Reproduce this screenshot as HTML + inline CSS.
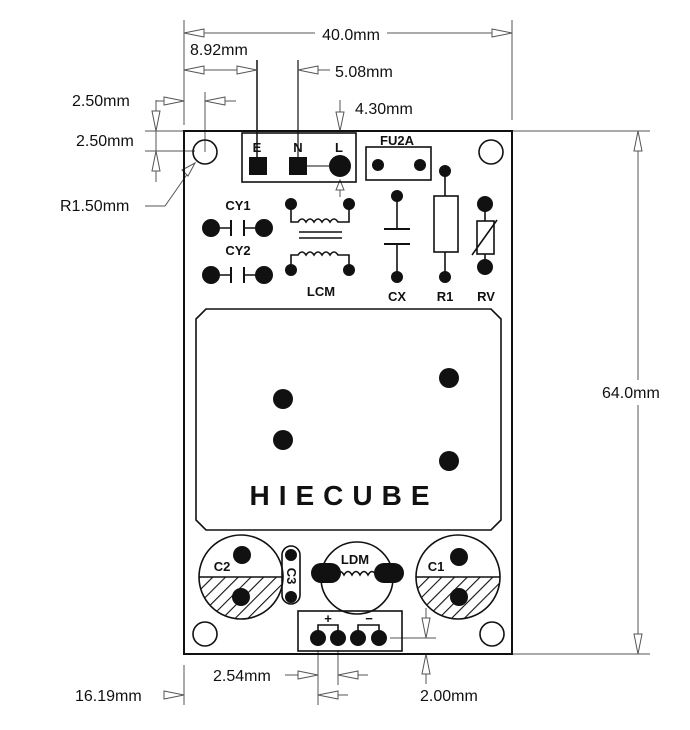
<!DOCTYPE html><html><head><meta charset="utf-8"><style>body{margin:0;background:#fff}svg{display:block}text{font-family:"Liberation Sans",sans-serif}</style></head><body>
<svg width="690" height="730" viewBox="0 0 690 730" xmlns="http://www.w3.org/2000/svg">
<defs>
<pattern id="h" width="9" height="9" patternUnits="userSpaceOnUse" patternTransform="rotate(45)"><line x1="0" y1="0" x2="0" y2="9" stroke="#111" stroke-width="2.2"/></pattern>
<clipPath id="c2"><circle cx="241" cy="577" r="42"/></clipPath>
<clipPath id="c1"><circle cx="458" cy="577" r="42"/></clipPath>
</defs>
<g stroke="#555" stroke-width="1" fill="none">
<line x1="184" y1="20" x2="184" y2="125"/><line x1="512" y1="20" x2="512" y2="120"/>
<line x1="184" y1="33" x2="315" y2="33"/><line x1="387" y1="33" x2="512" y2="33"/>
<line x1="184" y1="70" x2="257" y2="70"/><line x1="257" y1="60" x2="257" y2="160" stroke="#111" stroke-width="1.5"/>
<line x1="298" y1="60" x2="298" y2="160" stroke="#111" stroke-width="1.2"/><line x1="298" y1="70" x2="330" y2="70"/>
<line x1="340" y1="100" x2="340" y2="131"/><line x1="340" y1="180" x2="340" y2="197"/>
<line x1="156" y1="101" x2="184" y2="101"/><line x1="205" y1="101" x2="236" y2="101"/><line x1="205" y1="92" x2="205" y2="152"/>
<line x1="156" y1="100" x2="156" y2="182"/><line x1="145" y1="131" x2="184" y2="131"/><line x1="145" y1="151" x2="195" y2="151"/>
<polyline points="145,206 165,206 195,163"/>
<line x1="512" y1="131" x2="650" y2="131"/><line x1="512" y1="654" x2="650" y2="654"/>
<line x1="638" y1="131" x2="638" y2="380"/><line x1="638" y1="405" x2="638" y2="654"/>
<line x1="184" y1="665" x2="184" y2="705"/><line x1="164" y1="695" x2="184" y2="695"/>
<line x1="318" y1="650" x2="318" y2="705"/><line x1="338" y1="650" x2="338" y2="685"/>
<line x1="285" y1="675" x2="318" y2="675"/><line x1="338" y1="675" x2="368" y2="675"/><line x1="318" y1="695" x2="348" y2="695"/>
<line x1="390" y1="638" x2="436" y2="638"/><line x1="426" y1="608" x2="426" y2="638"/><line x1="426" y1="654" x2="426" y2="684"/>
</g>
<g fill="#fff" stroke="#555" stroke-width="1">
<polygon points="184,33 204,29 204,37"/><polygon points="512,33 492,29 492,37"/>
<polygon points="184,70 204,66 204,74"/><polygon points="257,70 237,66 237,74"/>
<polygon points="298,70 318,66 318,74"/>
<polygon points="340,131 336,112 344,112"/><polygon points="340,180 336,190 344,190"/>
<polygon points="184,101 164,97 164,105"/><polygon points="205,101 225,97 225,105"/>
<polygon points="156,131 152,111 160,111"/><polygon points="156,151 152,171 160,171"/>
<polygon points="195,163 182,170 188,176"/>
<polygon points="638,131 634,151 642,151"/><polygon points="638,654 634,634 642,634"/>
<polygon points="184,695 164,691 164,699"/>
<polygon points="318,675 298,671 298,679"/><polygon points="338,675 358,671 358,679"/><polygon points="318,695 338,691 338,699"/>
<polygon points="426,638 422,618 430,618"/><polygon points="426,654 422,674 430,674"/>
</g>
<g font-size="16" fill="#111" style="font-family:'DejaVu Sans Condensed','DejaVu Sans',sans-serif">
<text x="351" y="40" text-anchor="middle">40.0mm</text>
<text x="190" y="55">8.92mm</text>
<text x="335" y="77">5.08mm</text>
<text x="355" y="114">4.30mm</text>
<text x="72" y="106">2.50mm</text>
<text x="76" y="146">2.50mm</text>
<text x="60" y="211">R1.50mm</text>
<text x="602" y="398">64.0mm</text>
<text x="213" y="681">2.54mm</text>
<text x="75" y="701">16.19mm</text>
<text x="420" y="701">2.00mm</text>
</g>
<rect x="184" y="131" width="328" height="523" fill="none" stroke="#111" stroke-width="2"/>
<g fill="none" stroke="#111" stroke-width="1.6">
<circle cx="205" cy="152" r="12"/><circle cx="491" cy="152" r="12"/>
<circle cx="205" cy="634" r="12"/><circle cx="492" cy="634" r="12"/>
<rect x="242" y="133" width="114" height="49"/>
<rect x="366" y="147" width="65" height="33"/>
<rect x="434" y="196" width="24" height="56"/>
<rect x="477" y="221" width="17" height="33"/>
<polygon points="206,309 491,309 501,319 501,520 491,530 206,530 196,520 196,319"/>
<circle cx="241" cy="577" r="42"/><circle cx="458" cy="577" r="42"/>
<circle cx="357" cy="578" r="36"/>
<rect x="282" y="546" width="18" height="58" rx="9"/>
<rect x="298" y="611" width="104" height="40"/>
</g>
<g stroke="#111" stroke-width="1.6" fill="none">
<line x1="306" y1="166" x2="340" y2="166" stroke-width="1"/>
<line x1="445" y1="171" x2="445" y2="196"/><line x1="445" y1="252" x2="445" y2="277"/>
<line x1="485" y1="204" x2="485" y2="221"/><line x1="485" y1="254" x2="485" y2="267"/>
<line x1="472" y1="255" x2="497" y2="220"/>
<line x1="397" y1="196" x2="397" y2="229"/><line x1="384" y1="229" x2="410" y2="229" stroke-width="2"/>
<line x1="384" y1="244" x2="410" y2="244" stroke-width="2"/><line x1="397" y1="244" x2="397" y2="277"/>
<line x1="211" y1="228" x2="231" y2="228"/><line x1="231" y1="220" x2="231" y2="236" stroke-width="2"/><line x1="244" y1="220" x2="244" y2="236" stroke-width="2"/><line x1="244" y1="228" x2="264" y2="228"/>
<line x1="211" y1="275" x2="231" y2="275"/><line x1="231" y1="267" x2="231" y2="283" stroke-width="2"/><line x1="244" y1="267" x2="244" y2="283" stroke-width="2"/><line x1="244" y1="275" x2="264" y2="275"/>
<path d="M291,204 V222 H298 q4,-6 8,0 q4,-6 8,0 q4,-6 8,0 q4,-6 8,0 q4,-6 8,0 H349 V204"/>
<line x1="299" y1="232" x2="342" y2="232"/><line x1="299" y1="238" x2="342" y2="238"/>
<path d="M291,270 V255 H298 q4,-6 8,0 q4,-6 8,0 q4,-6 8,0 q4,-6 8,0 q4,-6 8,0 H349 V270"/>
<path d="M336,575 q4,-7 8,0 q4,-7 8,0 q4,-7 8,0 q4,-7 8,0 q4,-7 8,0" />
<polyline points="318,638 318,625 338,625 338,638"/><polyline points="358,638 358,625 379,625 379,638"/>
<line x1="199" y1="577" x2="283" y2="577"/><line x1="416" y1="577" x2="500" y2="577"/>
</g>
<rect x="195" y="577" width="92" height="45" fill="url(#h)" clip-path="url(#c2)"/>
<rect x="412" y="577" width="92" height="45" fill="url(#h)" clip-path="url(#c1)"/>
<g fill="#111">
<rect x="249" y="157" width="18" height="18"/><rect x="289" y="157" width="18" height="18"/>
<circle cx="340" cy="166" r="11"/>
<circle cx="378" cy="165" r="6"/><circle cx="420" cy="165" r="6"/>
<circle cx="445" cy="171" r="6"/><circle cx="445" cy="277" r="6"/>
<circle cx="485" cy="204" r="8"/><circle cx="485" cy="267" r="8"/>
<circle cx="397" cy="196" r="6"/><circle cx="397" cy="277" r="6"/>
<circle cx="211" cy="228" r="9"/><circle cx="264" cy="228" r="9"/>
<circle cx="211" cy="275" r="9"/><circle cx="264" cy="275" r="9"/>
<circle cx="291" cy="204" r="6"/><circle cx="349" cy="204" r="6"/><circle cx="291" cy="270" r="6"/><circle cx="349" cy="270" r="6"/>
<circle cx="283" cy="399" r="10"/><circle cx="449" cy="378" r="10"/><circle cx="283" cy="440" r="10"/><circle cx="449" cy="461" r="10"/>
<circle cx="242" cy="555" r="9"/><circle cx="241" cy="597" r="9"/>
<circle cx="459" cy="557" r="9"/><circle cx="459" cy="597" r="9"/>
<circle cx="291" cy="555" r="6"/><circle cx="291" cy="597" r="6"/>
<rect x="311" y="563" width="30" height="20" rx="10"/><rect x="374" y="563" width="30" height="20" rx="10"/>
<circle cx="318" cy="638" r="8"/><circle cx="338" cy="638" r="8"/><circle cx="358" cy="638" r="8"/><circle cx="379" cy="638" r="8"/>
</g>
<g font-size="13" font-weight="bold" fill="#111" text-anchor="middle">
<text x="257" y="152">E</text><text x="298" y="152">N</text><text x="339" y="152">L</text>
<text x="397" y="145">FU2A</text>
<text x="238" y="210">CY1</text><text x="238" y="255">CY2</text>
<text x="321" y="296">LCM</text><text x="397" y="301">CX</text><text x="445" y="301">R1</text><text x="486" y="301">RV</text>
<text x="222" y="571">C2</text><text x="436" y="571">C1</text><text x="355" y="564">LDM</text>
<text x="328" y="623">+</text><text x="369" y="623">−</text>
<text x="0" y="0" transform="translate(287,576) rotate(90)">C3</text>
<text x="344" y="505" font-size="28" letter-spacing="9">HIECUBE</text>
</g>
</svg></body></html>
